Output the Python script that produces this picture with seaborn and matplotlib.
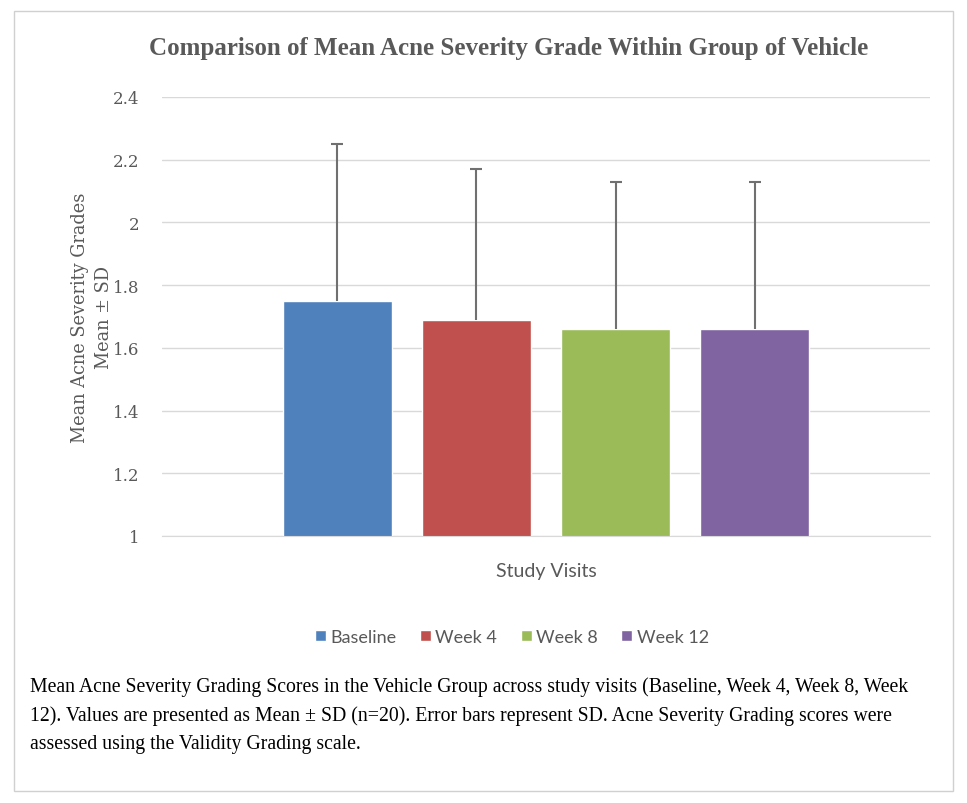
import matplotlib
matplotlib.use("Agg")
import matplotlib.pyplot as plt
from matplotlib.patches import Rectangle
from matplotlib.ticker import FuncFormatter
import numpy as np
import pandas as pd
import seaborn as sns

visits = ["Baseline", "Week 4", "Week 8", "Week 12"]
means = [1.75, 1.69, 1.66, 1.66]
sds = [0.50, 0.48, 0.47, 0.47]
colors = ["#4F81BD", "#C0504D", "#9BBB59", "#8064A2"]
yticks = [1, 1.2, 1.4, 1.6, 1.8, 2, 2.2, 2.4]

caption_lines = [
    "Mean Acne Severity Grading Scores in the Vehicle Group across study visits (Baseline, Week 4, Week 8, Week",
    "12). Values are presented as Mean \u00b1 SD (n=20). Error bars represent SD. Acne Severity Grading scores were",
    "assessed using the Validity Grading scale.",
]

df = pd.DataFrame({"group": ["Vehicle"] * len(visits), "visit": visits, "mean": means})

sns.set_style("white")
grey = "#595959"

fig = plt.figure(figsize=(9.67, 8.04), dpi=100)
ax = fig.add_axes([162 / 967, 1 - 537 / 804, 768 / 967, 439 / 804])

sns.barplot(data=df, x="group", y="mean", hue="visit", hue_order=visits,
            palette=colors, width=0.724, gap=0.216, errorbar=None,
            saturation=1, ax=ax)

# upward-only SD error bars at the bar centres
xs = []
for cont in ax.containers:
    p = cont.patches[0]
    xs.append(p.get_x() + p.get_width() / 2)
_, caps, _ = ax.errorbar(xs, means, yerr=[np.zeros(len(sds)), sds], fmt="none",
                         ecolor="#707070", elinewidth=1.5, capsize=4,
                         capthick=1.5, zorder=3)
caps[0].set_visible(False)  # no cap at the bar top

ax.set_xlim(-0.5, 0.5)
ax.set_ylim(1, 2.4)
ax.set_yticks(yticks)
ax.yaxis.set_major_formatter(FuncFormatter(lambda v, _: f"{v:g}"))
ax.set_xticks([])
ax.grid(axis="y", color="#d9d9d9", lw=1)
ax.set_axisbelow(True)
for s in ["top", "right", "left"]:
    ax.spines[s].set_visible(False)
ax.spines["bottom"].set_color("#d9d9d9")
ax.tick_params(axis="y", length=0, pad=16, labelcolor=grey, labelsize=12)
for lab in ax.get_yticklabels():
    lab.set_family("DejaVu Serif")

ax.set_ylabel("Mean Acne Severity Grades\nMean \u00b1 SD", family="DejaVu Serif",
              fontsize=12.8, color=grey, linespacing=1.45)
ax.yaxis.set_label_coords(-0.064, 0.5)
ax.set_xlabel("Study Visits", family="Lato", fontsize=14, color=grey)
ax.xaxis.set_label_coords(0.5, -0.0775)
ax.xaxis.label.set_va("center")

sns.move_legend(ax, "center", bbox_to_anchor=(512 / 967, 1 - 638 / 804),
                bbox_transform=fig.transFigure, ncol=4, frameon=False, title=None,
                handlelength=0.6, handleheight=0.6, handletextpad=0.25,
                columnspacing=1.3, prop={"family": "Lato", "size": 13})
for t in ax.get_legend().get_texts():
    t.set_color(grey)

fig.text(509 / 967, 1 - 48 / 804,
         "Comparison of Mean Acne Severity Grade Within Group of Vehicle",
         ha="center", va="center", family="Liberation Serif", weight="bold",
         fontsize=18, color=grey)

for i, line in enumerate(caption_lines):
    fig.text(30 / 967, 1 - (687 + 29 * i) / 804, line, ha="left", va="center",
             family="Liberation Serif", fontsize=14.2, color="black")

fig.patches.append(Rectangle((14 / 967, 1 - 792 / 804), 939 / 967, 780 / 804,
                             transform=fig.transFigure, fill=False,
                             edgecolor="#d0d0d0", lw=1))

fig.savefig("out.png", dpi=100)
